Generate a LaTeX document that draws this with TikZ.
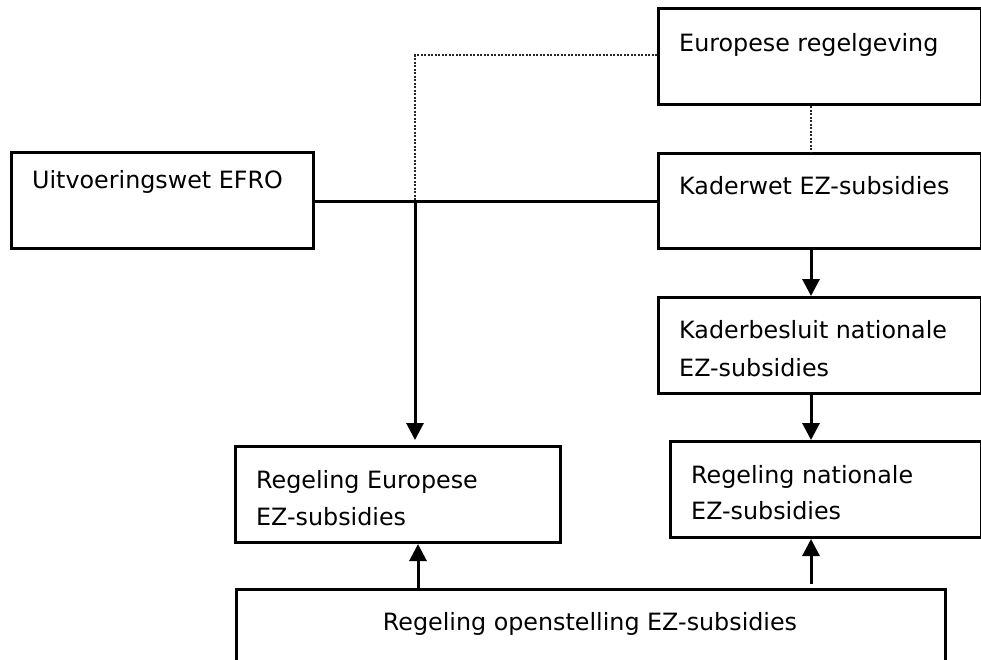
\documentclass[tikz,border=0pt]{standalone}
\usepackage{fontspec}
\setmainfont{DejaVu Sans}
\usetikzlibrary{arrows.meta}
\begin{document}
\begin{tikzpicture}[x=1pt,y=-1pt,
  box/.style={draw=black,line width=3pt,rectangle,inner sep=0pt,anchor=north west},
  txt/.style={anchor=base west,inner sep=0pt,font=\fontsize{23.8}{37}\selectfont,text=black},
  conn/.style={draw=black,line width=3pt},
  arr/.style={conn,-{Triangle[length=17pt,width=17pt]}},
  dotline/.style={draw=black!85,line width=2pt,dash pattern=on 2pt off 1.5pt}]
\useasboundingbox (0,0) rectangle (981,659);
\clip (0,0) rectangle (981,659);
\fill[white] (0,0) rectangle (981,659);
% boxes
\node[box,minimum width=323pt,minimum height=96pt] (eur) at (657,7) {};
\node[box,minimum width=323pt,minimum height=95pt] (kad) at (657,152) {};
\node[box,minimum width=302pt,minimum height=96pt] (uit) at (10,151) {};
\node[box,minimum width=323pt,minimum height=96pt] (kbs) at (657,296) {};
\node[box,minimum width=311pt,minimum height=96pt] (rne) at (669,440) {};
\node[box,minimum width=325pt,minimum height=96pt] (reu) at (234,445) {};
\node[box,minimum width=709pt,minimum height=92pt] (ros) at (235,588) {};
% texts
\node[txt] (eurt) at (679,51) {Europese regelgeving};
\node[txt] (kadt) at (679,194) {Kaderwet EZ-subsidies};
\node[txt] (uitt) at (32,188) {Uitvoeringswet EFRO};
\node[txt] (kbst1) at (679,338) {Kaderbesluit nationale};
\node[txt] (kbst2) at (679,376) {EZ-subsidies};
\node[txt] (rnet1) at (691,483) {Regeling nationale};
\node[txt] (rnet2) at (691,519) {EZ-subsidies};
\node[txt] (reut1) at (256,488) {Regeling Europese};
\node[txt] (reut2) at (256,525) {EZ-subsidies};
\node[txt,anchor=base] (rost) at (590,630) {Regeling openstelling EZ-subsidies};
% helper coordinates
\coordinate (j) at (415,201);
\coordinate (dy) at (0,55);
\coordinate (cx) at (811,0);
\coordinate (lx) at (418,0);
\coordinate (t1) at (0,440);
\coordinate (t2) at (0,584);
% connectors
\draw[dotline] (eur.west |- dy) -| (j);
\draw[dotline] (eur.south -| cx) -- (kad.north -| cx);
\draw[conn] (uit.east |- j) -- (kad.west |- j);
\draw[arr] (j) -- (j |- t1);
\draw[arr] (kad.south -| cx) -- (kbs.north -| cx);
\draw[arr] (kbs.south -| cx) -- (rne.north -| cx);
\draw[arr] (ros.north -| lx) -- (reu.south -| lx);
\draw[arr] (cx |- t2) -- (rne.south -| cx);
\end{tikzpicture}
\end{document}
